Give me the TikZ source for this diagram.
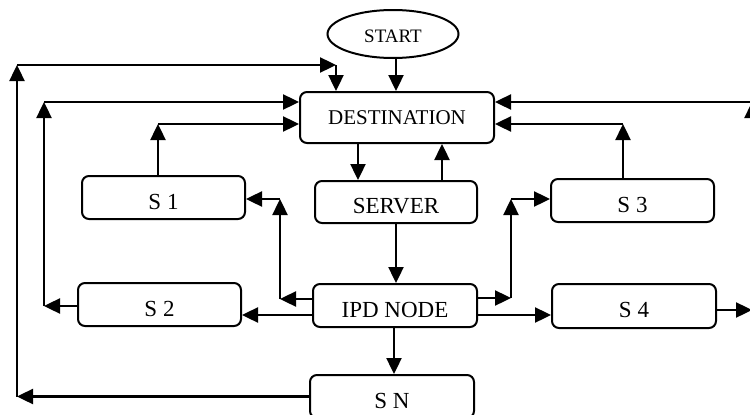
\documentclass[tikz,border=0pt]{standalone}
\usepackage{fontspec}
\setmainfont{Liberation Serif}
\usetikzlibrary{arrows.meta,shapes.geometric}
\begin{document}
\begin{tikzpicture}[x=1pt,y=-1pt,
  box/.style={draw,line width=2pt,rounded corners=7pt,minimum width=163pt,minimum height=43pt,inner sep=0pt,
    font=\fontsize{23}{23}\selectfont,text height=23pt,text depth=0pt},
  destbox/.style={draw,line width=2pt,rounded corners=7pt,minimum width=194pt,minimum height=51pt,inner sep=0pt,
    font=\fontsize{21}{21}\selectfont},
  startnode/.style={draw,ellipse,line width=2pt,minimum width=131pt,minimum height=48pt,inner sep=0pt,
    font=\fontsize{19}{19}\selectfont,text height=17pt,text depth=0pt},
  arr/.style={line width=2.4pt,-{Triangle[length=16pt,width=15pt]}}]
\useasboundingbox[fill=white] (0,0) rectangle (750,415);

\node[startnode] (start) at (393,34) {START};
\node[destbox] (dest) at (397,117.5) {DESTINATION};
\node[box,minimum width=162pt,minimum height=42pt] (server) at (396,202) {SERVER};
\node[box,minimum width=164pt] (ipd) at (395,305.5) {IPD NODE};
\node[box] (s1) at (163.5,197.5) {S 1};
\node[box] (s2) at (159.5,304.5) {S 2};
\node[box] (s3) at (632.5,200.5) {S 3};
\node[box,minimum width=164pt,minimum height=44pt] (s4) at (634,306) {S 4};
\node[box,minimum width=164pt] (sn) at (392,396.5) {S N};

% helper coordinates
\coordinate (xst) at (396,0);
\coordinate (xds) at (358,0);
\coordinate (xsd) at (442,0);
\coordinate (xsi) at (396,0);
\coordinate (xin) at (394,0);
\coordinate (yis) at (0,315);
\coordinate (L1) at (17,396.5);
\coordinate (L1t) at (17,65);
\coordinate (T1) at (336,65);
\coordinate (L2) at (44,306);
\coordinate (L2t) at (44,102);
\coordinate (U1) at (158,124);
\coordinate (M1) at (280,299);
\coordinate (M1t) at (280,199);
\coordinate (R1) at (511,298);
\coordinate (R1t) at (511,199);
\coordinate (U3) at (623,124);
\coordinate (E1) at (752,310);
\coordinate (E2) at (752,102);

% start to destination
\draw[arr] (xst |- start.south) -- (xst |- dest.north);
% destination <-> server
\draw[arr] (xds |- dest.south) -- (xds |- server.north);
\draw[arr] (xsd |- server.north) -- (xsd |- dest.south);
% server to ipd
\draw[arr] (xsi |- server.south) -- (xsi |- ipd.north);
% ipd to sn
\draw[arr] (xin |- ipd.south) -- (xin |- sn.north);

% SN loop
\draw[arr] (sn.west) -- (L1);
\draw[arr] (L1) -- (L1t);
\draw[arr] (L1t) -- (T1);
\draw[arr] (T1) -- (T1 |- dest.north);

% S2 loop
\draw[arr] (L2 -| s2.west) -- (L2);
\draw[arr] (L2) -- (L2t);
\draw[arr] (L2t) -- (L2t -| dest.west);

% S1 loop
\draw[arr] (U1 |- s1.north) -- (U1);
\draw[arr] (U1) -- (U1 -| dest.west);

% IPD to S1
\draw[arr] (M1 -| ipd.west) -- (M1);
\draw[arr] (M1) -- (M1t);
\draw[arr] (M1t) -- (M1t -| s1.east);

% IPD to S2
\draw[arr] (yis -| ipd.west) -- (yis -| s2.east);

% IPD to S3
\draw[arr] (R1 -| ipd.east) -- (R1);
\draw[arr] (R1) -- (R1t);
\draw[arr] (R1t) -- (R1t -| s3.west);

% IPD to S4
\draw[arr] (yis -| ipd.east) -- (yis -| s4.west);

% S3 loop
\draw[arr] (U3 |- s3.north) -- (U3);
\draw[arr] (U3) -- (U3 -| dest.east);

% S4 loop
\draw[arr] (E1 -| s4.east) -- (E1);
\draw[arr] (E1) -- (E2);
\draw[arr] (E2) -- (E2 -| dest.east);
\end{tikzpicture}
\end{document}
